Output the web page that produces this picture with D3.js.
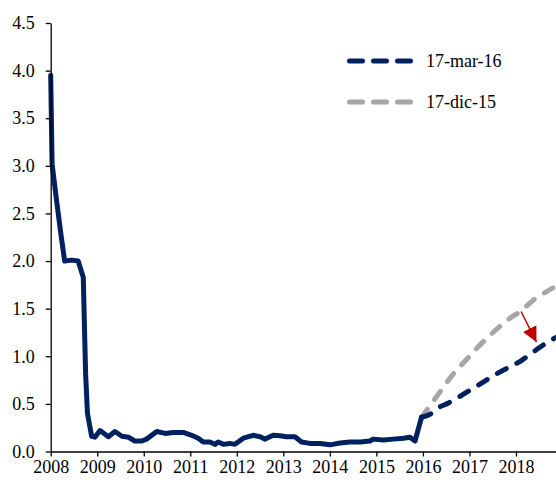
<!DOCTYPE html>
<html>
<head>
<meta charset="utf-8">
<script src="https://cdn.jsdelivr.net/npm/d3@7"></script>
<style>
  html, body { margin: 0; padding: 0; background: #fff; }
  svg { display: block; }
  text { font-family: "Liberation Serif", "Times New Roman", serif; }
</style>
</head>
<body>
<svg id="chart" width="556" height="480"></svg>
<script>
// ---- data ----
const histYears = [2008.0, 2008.03, 2008.13, 2008.22, 2008.3, 2008.45, 2008.59, 2008.7, 2008.75, 2008.79, 2008.88,
  2008.95, 2009.06, 2009.24, 2009.38, 2009.53, 2009.67, 2009.81, 2009.96, 2010.06, 2010.28, 2010.46, 2010.63,
  2010.85, 2011.03, 2011.17, 2011.28, 2011.42, 2011.53, 2011.6, 2011.71, 2011.85, 2011.96, 2012.14, 2012.35,
  2012.5, 2012.61, 2012.78, 2012.93, 2013.07, 2013.25, 2013.39, 2013.57, 2013.79, 2014.0, 2014.22, 2014.43,
  2014.65, 2014.86, 2014.93, 2015.15, 2015.36, 2015.58, 2015.72, 2015.83, 2015.97];
const histValues = [3.95, 3.02, 2.62, 2.28, 2.0, 2.01, 2.0, 1.83, 0.82, 0.40, 0.16,
  0.15, 0.22, 0.155, 0.21, 0.16, 0.15, 0.11, 0.11, 0.13, 0.21, 0.19, 0.20,
  0.20, 0.17, 0.14, 0.10, 0.10, 0.075, 0.10, 0.075, 0.085, 0.075, 0.14, 0.17,
  0.155, 0.13, 0.17, 0.165, 0.155, 0.155, 0.10, 0.085, 0.085, 0.07, 0.09, 0.10,
  0.10, 0.11, 0.13, 0.12, 0.13, 0.14, 0.15, 0.11, 0.36];

const marYears  = [2015.97, 2016.15, 2016.3, 2016.55, 2016.8, 2017.0, 2017.2, 2017.4, 2017.6, 2017.87, 2018.1, 2018.3, 2018.5, 2018.72, 2018.95];
const marValues = [0.36, 0.39, 0.45, 0.51, 0.58, 0.64, 0.70, 0.76, 0.82, 0.89, 0.95, 1.02, 1.09, 1.16, 1.22];

const decYears  = [2015.97, 2016.3, 2016.58, 2017.0, 2017.15, 2017.44, 2017.87, 2018.09, 2018.4, 2018.66, 2018.95];
const decValues = [0.36, 0.58, 0.77, 1.0, 1.08, 1.22, 1.40, 1.47, 1.60, 1.68, 1.76];

const seriesNames = ["17-mar-16", "17-dic-15"];
const xTicks = [2008, 2009, 2010, 2011, 2012, 2013, 2014, 2015, 2016, 2017, 2018];
const yTicks = [0, 0.5, 1, 1.5, 2, 2.5, 3, 3.5, 4, 4.5];
// arrow annotation (from Dec path down to Mar path), in data units
const arrowFrom = [2018.11, 1.47];
const arrowTo   = [2018.44, 1.15];

// ---- drawing ----
const NAVY = "#002060", GRAY = "#A6A6A6", RED = "#C00000";
const svg = d3.select("#chart");
const x = d3.scaleLinear().domain([2008, 2019]).range([50.7, 562.5]);
const y = d3.scaleLinear().domain([0, 4.5]).range([451.5, 23]);

const line = d3.line().x(d => x(d[0])).y(d => y(d[1])).curve(d3.curveMonotoneX);
const zip = (a, b) => a.map((v, i) => [v, b[i]]);

// forecasts
svg.append("path").datum(zip(decYears, decValues)).attr("d", line)
  .attr("fill", "none").attr("stroke", GRAY).attr("stroke-width", 5)
  .attr("stroke-linecap", "round").attr("stroke-dasharray", "10,12");
svg.append("path").datum(zip(marYears, marValues)).attr("d", line)
  .attr("fill", "none").attr("stroke", NAVY).attr("stroke-width", 5)
  .attr("stroke-linecap", "round").attr("stroke-dasharray", "10,12");

// history
svg.append("path").datum(zip(histYears, histValues))
  .attr("d", d3.line().x(d => x(d[0])).y(d => y(d[1])))
  .attr("fill", "none").attr("stroke", NAVY).attr("stroke-width", 5)
  .attr("stroke-linejoin", "round").attr("stroke-linecap", "round");

// arrow
const defs = svg.append("defs");
defs.append("marker").attr("id", "ah").attr("viewBox", "0 0 10 10")
  .attr("refX", 10).attr("refY", 5).attr("markerWidth", 15).attr("markerHeight", 15)
  .attr("markerUnits", "userSpaceOnUse").attr("orient", "auto")
  .append("path").attr("d", "M0,0 L10,5 L0,10 Z").attr("fill", RED);
svg.append("line")
  .attr("x1", x(arrowFrom[0])).attr("y1", y(arrowFrom[1]))
  .attr("x2", x(arrowTo[0])).attr("y2", y(arrowTo[1]))
  .attr("stroke", RED).attr("stroke-width", 1.5).attr("marker-end", "url(#ah)");

// axes
const xAxis = d3.axisBottom(x).tickValues(xTicks).tickFormat(d3.format("d"))
  .tickSize(5).tickSizeOuter(0).tickPadding(4);
const gx = svg.append("g").attr("transform", `translate(0,${y(0)})`).call(xAxis);
const yAxis = d3.axisLeft(y).tickValues(yTicks).tickFormat(d3.format(".1f"))
  .tickSize(5).tickSizeOuter(0).tickPadding(11);
const gy = svg.append("g").attr("transform", `translate(${x(2008)},0)`).call(yAxis);
[gx, gy].forEach(g => {
  g.select(".domain").attr("stroke", "#000").attr("stroke-width", 1.3);
  g.selectAll(".tick line").attr("stroke", "#000").attr("stroke-width", 1.3);
  g.selectAll("text").attr("font-family", "Liberation Serif, serif")
    .attr("font-size", 18).attr("fill", "#000");
});

// legend
const legend = svg.append("g");
const legendColors = [NAVY, GRAY];
const legendY = [61, 102];
seriesNames.forEach((name, i) => {
  legend.append("line").attr("x1", 349.5).attr("x2", 411.5)
    .attr("y1", legendY[i]).attr("y2", legendY[i])
    .attr("stroke", legendColors[i]).attr("stroke-width", 5)
    .attr("stroke-linecap", "round").attr("stroke-dasharray", "13,11");
  legend.append("text").attr("x", 426).attr("y", legendY[i] + 6)
    .attr("font-size", 18).attr("fill", "#000").text(name);
});
</script>
</body>
</html>
